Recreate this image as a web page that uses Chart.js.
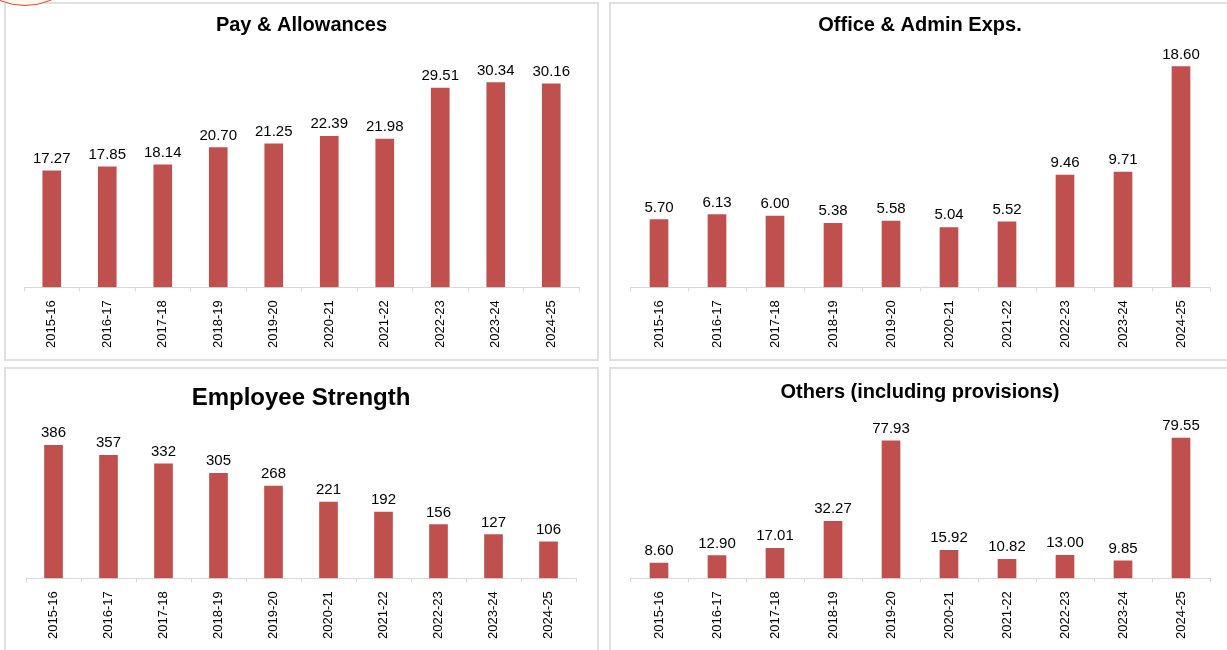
<!DOCTYPE html>
<html>
<head>
<meta charset="utf-8">
<script src="https://cdn.jsdelivr.net/npm/chart.js@4.4.1/dist/chart.umd.min.js"></script>
<style>
    body { margin: 0; background: #fff; width: 1227px; height: 650px; overflow: hidden; position: relative; }
    .panel { position: absolute; border: 2px solid #e0e0e0; box-sizing: border-box; background: #fff; }
    .panel canvas { position: absolute; left: 0; top: 0; }
    #marca { position: absolute; left: -41px; top: -126px; width: 132px; height: 132px; border-radius: 50%;
        border: 1.5px solid #e8423f; background: #fff8e8; box-sizing: border-box; z-index: 5; }
</style>
</head>
<body>
<div class="panel" style="left:4px; top:2px; width:595px; height:359px;"><canvas id="graficoPago" width="591" height="355"></canvas></div>
<div class="panel" style="left:609px; top:2px; width:622px; height:359px;"><canvas id="graficoOficina" width="618" height="355"></canvas></div>
<div class="panel" style="left:4px; top:367px; width:595px; height:290px;"><canvas id="graficoPlantilla" width="591" height="281"></canvas></div>
<div class="panel" style="left:609px; top:367px; width:622px; height:290px;"><canvas id="graficoOtros" width="618" height="281"></canvas></div>
<div id="marca"></div>

<script>
// datos
const anios = ['2015-16', '2016-17', '2017-18', '2018-19', '2019-20', '2020-21', '2021-22', '2022-23', '2023-24', '2024-25']
const pagoAsignaciones = [17.27, 17.85, 18.14, 20.70, 21.25, 22.39, 21.98, 29.51, 30.34, 30.16]
const gastosOficina = [5.70, 6.13, 6.00, 5.38, 5.58, 5.04, 5.52, 9.46, 9.71, 18.60]
const plantilla = [386, 357, 332, 305, 268, 221, 192, 156, 127, 106]
const otros = [8.60, 12.90, 17.01, 32.27, 77.93, 15.92, 10.82, 13.00, 9.85, 79.55]

const colorBarra = '#c0504d'
const fuente = '"Liberation Sans", Arial, sans-serif'

// plugin propio para escribir el valor encima de cada barra
const etiquetasPlugin = {
    id: 'etiquetas',
    afterDatasetsDraw(chart, args, opts) {
        const { ctx } = chart
        const meta = chart.getDatasetMeta(0)
        const valores = chart.data.datasets[0].data
        ctx.save()
        ctx.font = `15px ${fuente}`
        ctx.fillStyle = '#000'
        ctx.textAlign = 'center'
        ctx.textBaseline = 'alphabetic'
        meta.data.forEach((barra, i) => {
            ctx.fillText(valores[i].toFixed(opts.decimales), barra.x, barra.y - 8)
        })
        ctx.restore()
    }
}

const crearGrafico = (id, titulo, tamTitulo, tituloArriba, tituloAbajo, valores, maximo, decimales, izq, der) => {
    new Chart(document.getElementById(id), {
        type: 'bar',
        data: {
            labels: anios,
            datasets: [{
                data: valores,
                backgroundColor: colorBarra,
                barThickness: 18
            }]
        },
        options: {
            responsive: false,
            animation: false,
            layout: { padding: { left: izq, right: der, top: 0, bottom: 2 } },
            plugins: {
                legend: { display: false },
                tooltip: { enabled: false },
                title: {
                    display: true,
                    text: titulo,
                    color: '#000',
                    font: { family: fuente, size: tamTitulo, weight: 'bold' },
                    padding: { top: tituloArriba, bottom: tituloAbajo }
                },
                etiquetas: { decimales: decimales }
            },
            scales: {
                x: {
                    offset: true,
                    grid: {
                        display: true,
                        offset: true,
                        drawOnChartArea: false,
                        drawTicks: true,
                        tickLength: 4,
                        color: '#d9d9d9'
                    },
                    border: { display: true, color: '#d9d9d9' },
                    ticks: {
                        minRotation: 90,
                        maxRotation: 90,
                        padding: 9,
                        color: '#000',
                        font: { family: fuente, size: 13 }
                    }
                },
                y: { display: false, min: 0, max: maximo }
            }
        },
        plugins: [etiquetasPlugin]
    })
}

crearGrafico('graficoPago', 'Pay & Allowances', 20, 9, 4, pagoAsignaciones, 36.5, 2, 18, 18)
crearGrafico('graficoOficina', 'Office & Admin Exps.', 20, 9, 4, gastosOficina, 20.75, 2, 19, 19)
crearGrafico('graficoPlantilla', 'Employee Strength', 24, 15, 5, plantilla, 466, 0, 20, 21)
crearGrafico('graficoOtros', 'Others (including provisions)', 20, 11, 5, otros, 96, 2, 19, 19)
</script>
</body>
</html>
